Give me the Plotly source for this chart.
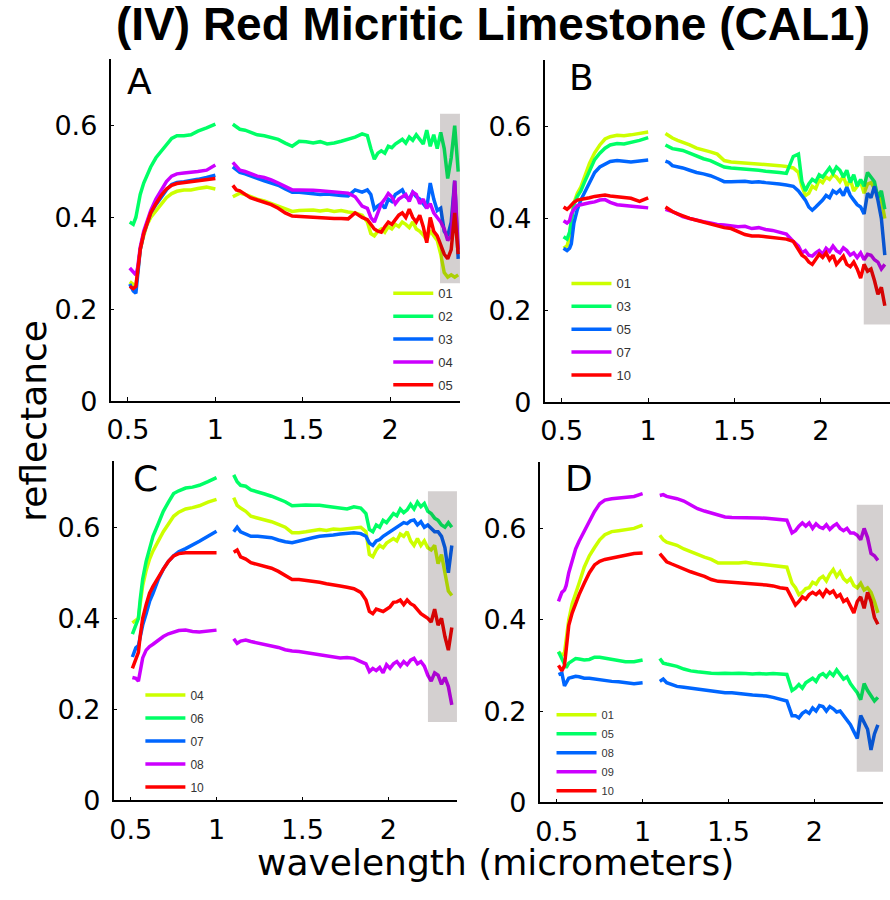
import plotly.graph_objects as go

# ---------------- data ----------------
WL = [0.51, 0.53, 0.545, 0.555, 0.57, 0.59, 0.61, 0.63, 0.66, 0.69, 0.72, 0.75, 0.78, 0.82, 0.86, 0.90, 0.95, 1.00,
      1.10, 1.12, 1.14, 1.17, 1.20, 1.24, 1.28, 1.32, 1.36, 1.40, 1.44, 1.48, 1.52, 1.56, 1.60, 1.64, 1.68, 1.72, 1.76, 1.80, 1.84, 1.87,
      1.89, 1.91, 1.93, 1.95, 1.97, 1.99, 2.01, 2.03, 2.05, 2.07, 2.09, 2.11, 2.13, 2.15, 2.17, 2.19, 2.21, 2.23, 2.25, 2.27, 2.29, 2.31,
      2.33, 2.35, 2.37, 2.39]

A01 = [0.26, 0.255, 0.25, 0.28, 0.33, 0.36, 0.385, 0.40, 0.415, 0.43, 0.443, 0.452, 0.457, 0.46, 0.46, 0.463, 0.466, 0.462,
       0.445, 0.45, 0.453, 0.45, 0.445, 0.44, 0.436, 0.43, 0.425, 0.418, 0.413, 0.415, 0.415, 0.416, 0.414, 0.416, 0.413, 0.415, 0.412, 0.41, 0.405, 0.39,
       0.365, 0.36, 0.37, 0.375, 0.368, 0.38, 0.375, 0.385, 0.38, 0.39, 0.385, 0.378, 0.39, 0.375, 0.37, 0.362, 0.35, 0.372, 0.36, 0.35, 0.32, 0.28, 0.27, 0.275, 0.27, 0.275]
A02 = [0.39, 0.385, 0.40, 0.42, 0.45, 0.475, 0.495, 0.51, 0.53, 0.545, 0.56, 0.572, 0.578, 0.578, 0.58, 0.588, 0.595, 0.603,
       0.603, 0.598, 0.592, 0.59, 0.585, 0.58, 0.578, 0.573, 0.57, 0.562, 0.555, 0.566, 0.565, 0.562, 0.565, 0.56, 0.562, 0.566, 0.57, 0.575, 0.582, 0.578,
       0.55, 0.527, 0.54, 0.545, 0.54, 0.555, 0.552, 0.56, 0.565, 0.57, 0.562, 0.575, 0.568, 0.58, 0.57, 0.56, 0.59, 0.555, 0.58, 0.55, 0.585, 0.55, 0.485, 0.53, 0.60, 0.50]
A03 = [0.255, 0.24, 0.235, 0.27, 0.33, 0.365, 0.39, 0.41, 0.428, 0.445, 0.46, 0.472, 0.476, 0.478, 0.48, 0.483, 0.487, 0.492,
       0.51, 0.505, 0.498, 0.495, 0.49, 0.485, 0.48, 0.475, 0.47, 0.462, 0.455, 0.455, 0.453, 0.452, 0.45, 0.451, 0.449, 0.448, 0.447, 0.46, 0.455, 0.46,
       0.45, 0.418, 0.425, 0.43, 0.42, 0.44, 0.435, 0.45, 0.455, 0.46, 0.445, 0.44, 0.455, 0.445, 0.44, 0.43, 0.42, 0.475, 0.44, 0.415, 0.42, 0.37, 0.36, 0.39, 0.48, 0.31]
A04 = [0.29, 0.28, 0.275, 0.29, 0.335, 0.37, 0.395, 0.415, 0.44, 0.46, 0.478, 0.49, 0.495, 0.497, 0.498, 0.50, 0.503, 0.514,
       0.52, 0.51, 0.503, 0.50, 0.495, 0.49, 0.487, 0.482, 0.475, 0.468, 0.46, 0.46, 0.46, 0.459, 0.458, 0.457, 0.456, 0.455, 0.453, 0.445, 0.425, 0.42,
       0.40, 0.39, 0.41, 0.43, 0.44, 0.452, 0.445, 0.43, 0.44, 0.445, 0.45, 0.435, 0.455, 0.45, 0.43, 0.44, 0.42, 0.43, 0.41, 0.40, 0.39, 0.375, 0.35, 0.36, 0.48, 0.33]
A05 = [0.25, 0.245, 0.25, 0.28, 0.33, 0.365, 0.39, 0.41, 0.43, 0.448, 0.462, 0.47, 0.474, 0.476, 0.478, 0.48, 0.483, 0.485,
       0.47, 0.46, 0.458, 0.45, 0.443, 0.438, 0.433, 0.428, 0.42, 0.41, 0.403, 0.402, 0.401, 0.40, 0.40, 0.399, 0.398, 0.398, 0.397, 0.41, 0.40, 0.395,
       0.385, 0.375, 0.37, 0.368, 0.38, 0.39, 0.385, 0.395, 0.405, 0.41, 0.40, 0.418, 0.40, 0.39, 0.405, 0.38, 0.345, 0.40, 0.37, 0.36, 0.34, 0.32, 0.31, 0.33, 0.41, 0.32]

B01 = [0.335, 0.34, 0.36, 0.40, 0.434, 0.455, 0.468, 0.49, 0.52, 0.543, 0.56, 0.573, 0.578, 0.581, 0.58, 0.582, 0.585, 0.588,
       0.585, 0.58, 0.575, 0.57, 0.566, 0.56, 0.553, 0.548, 0.545, 0.54, 0.526, 0.523, 0.522, 0.52, 0.52, 0.518, 0.517, 0.516, 0.515, 0.513, 0.51, 0.50,
       0.47, 0.45, 0.455, 0.47, 0.465, 0.484, 0.478, 0.49, 0.485, 0.495, 0.49, 0.48, 0.492, 0.47, 0.485, 0.46, 0.47, 0.48, 0.455, 0.475, 0.478, 0.465, 0.455, 0.44, 0.40, None]
B03 = [0.36, 0.355, 0.37, 0.40, 0.43, 0.448, 0.46, 0.478, 0.505, 0.528, 0.542, 0.553, 0.56, 0.563, 0.562, 0.565, 0.57, 0.576,
       0.56, 0.555, 0.552, 0.55, 0.548, 0.542, 0.535, 0.53, 0.526, 0.52, 0.512, 0.51, 0.509, 0.507, 0.506, 0.505, 0.503, 0.502, 0.50, 0.498, 0.535, 0.54,
       0.48, 0.46, 0.475, 0.485, 0.48, 0.495, 0.49, 0.50, 0.51, 0.498, 0.512, 0.505, 0.49, 0.505, 0.478, 0.495, 0.47, 0.485, 0.47, 0.50, 0.49, 0.48, 0.445, 0.46, 0.42, None]
B05 = [0.335, 0.33, 0.335, 0.345, 0.39, 0.42, 0.44, 0.455, 0.48, 0.50, 0.512, 0.519, 0.524, 0.526, 0.524, 0.523, 0.525, 0.527,
       0.525, 0.522, 0.515, 0.513, 0.51, 0.505, 0.50, 0.497, 0.493, 0.487, 0.48, 0.48, 0.48, 0.481, 0.479, 0.48, 0.478, 0.477, 0.475, 0.473, 0.47, 0.46,
       0.45, 0.44, 0.425, 0.418, 0.425, 0.432, 0.44, 0.45, 0.445, 0.46, 0.455, 0.462, 0.45, 0.468, 0.45, 0.44, 0.43, 0.425, 0.41, 0.455, 0.445, 0.47, 0.44, 0.40, 0.32, None]
B07 = [0.395, 0.39, 0.395, 0.41, 0.42, 0.428, 0.43, 0.432, 0.434, 0.436, 0.44, 0.441, 0.435, 0.43, 0.428, 0.427, 0.425, 0.423,
       0.42, 0.418, 0.415, 0.41, 0.404, 0.40, 0.396, 0.393, 0.39, 0.387, 0.386, 0.384, 0.382, 0.383, 0.378, 0.38, 0.376, 0.374, 0.37, 0.366, 0.35, 0.34,
       0.325, 0.33, 0.32, 0.318, 0.325, 0.33, 0.322, 0.335, 0.328, 0.34, 0.33, 0.325, 0.336, 0.33, 0.32, 0.325, 0.315, 0.325, 0.31, 0.322, 0.32, 0.31, 0.305, 0.29, 0.30, None]
B10 = [0.425, 0.42, 0.425, 0.43, 0.435, 0.44, 0.441, 0.443, 0.445, 0.448, 0.45, 0.451, 0.449, 0.447, 0.445, 0.444, 0.437, 0.445,
       0.425, 0.42, 0.415, 0.41, 0.405, 0.40, 0.396, 0.392, 0.388, 0.385, 0.38, 0.378, 0.372, 0.365, 0.362, 0.362, 0.36, 0.358, 0.356, 0.355, 0.35, 0.33,
       0.32, 0.315, 0.305, 0.30, 0.31, 0.322, 0.315, 0.325, 0.31, 0.32, 0.30, 0.31, 0.318, 0.30, 0.295, 0.305, 0.29, 0.27, 0.30, 0.285, 0.29, 0.265, 0.235, 0.25, 0.21, None]

C04 = [0.39, 0.395, 0.40, 0.43, 0.472, 0.505, 0.53, 0.548, 0.57, 0.59, 0.607, 0.624, 0.633, 0.64, 0.643, 0.647, 0.655, 0.661,
       0.665, 0.648, 0.642, 0.635, 0.624, 0.62, 0.617, 0.612, 0.606, 0.60, 0.588, 0.588, 0.59, 0.592, 0.595, 0.593, 0.596, 0.595, 0.597, 0.598, 0.60, 0.59,
       0.54, 0.535, 0.55, 0.56, 0.555, 0.565, 0.57, 0.575, 0.57, 0.585, 0.58, 0.59, 0.57, 0.56, 0.575, 0.56, 0.57, 0.555, 0.55, 0.56, 0.52, 0.54, 0.50, 0.46, 0.45, None]
C06 = [0.365, 0.385, 0.40, 0.44, 0.486, 0.525, 0.555, 0.58, 0.607, 0.635, 0.655, 0.674, 0.68, 0.686, 0.688, 0.692, 0.70, 0.709,
       0.715, 0.70, 0.692, 0.69, 0.682, 0.678, 0.673, 0.668, 0.662, 0.656, 0.647, 0.648, 0.649, 0.648, 0.648, 0.646, 0.644, 0.642, 0.64, 0.645, 0.642, 0.63,
       0.595, 0.59, 0.605, 0.60, 0.615, 0.61, 0.62, 0.63, 0.625, 0.64, 0.632, 0.638, 0.65, 0.64, 0.655, 0.645, 0.652, 0.635, 0.63, 0.62, 0.615, 0.605, 0.60, 0.61, 0.60, None]
C07 = [0.315, 0.335, 0.34, 0.36, 0.385, 0.41, 0.437, 0.455, 0.485, 0.508, 0.525, 0.537, 0.546, 0.553, 0.56, 0.569, 0.58, 0.591,
       0.59, 0.60, 0.59, 0.584, 0.58, 0.58, 0.578, 0.577, 0.572, 0.568, 0.566, 0.57, 0.574, 0.577, 0.58, 0.581, 0.583, 0.585, 0.586, 0.588, 0.586, 0.58,
       0.565, 0.56, 0.57, 0.573, 0.58, 0.585, 0.59, 0.595, 0.60, 0.605, 0.61, 0.608, 0.614, 0.616, 0.605, 0.612, 0.60, 0.605, 0.598, 0.59, 0.59, 0.58, 0.555, 0.50, 0.56, None]
C08 = [0.27, 0.268, 0.262, 0.28, 0.313, 0.33, 0.338, 0.343, 0.352, 0.36, 0.366, 0.37, 0.373, 0.374, 0.371, 0.37, 0.372, 0.374,
       0.355, 0.345, 0.35, 0.352, 0.349, 0.346, 0.343, 0.34, 0.336, 0.331, 0.328, 0.327, 0.325, 0.322, 0.32, 0.317, 0.315, 0.313, 0.314, 0.312, 0.305, 0.30,
       0.283, 0.29, 0.285, 0.292, 0.28, 0.298, 0.29, 0.30, 0.305, 0.295, 0.305, 0.298, 0.308, 0.312, 0.30, 0.305, 0.295, 0.275, 0.262, 0.28, 0.275, 0.255, 0.27, 0.25, 0.21, None]
C10 = [0.29, 0.313, 0.325, 0.36, 0.40, 0.43, 0.455, 0.47, 0.49, 0.508, 0.525, 0.537, 0.542, 0.544, 0.544, 0.544, 0.545, 0.544,
       0.545, 0.55, 0.535, 0.53, 0.522, 0.518, 0.514, 0.51, 0.503, 0.493, 0.485, 0.485, 0.483, 0.482, 0.479, 0.476, 0.474, 0.471, 0.468, 0.465, 0.457, 0.44,
       0.415, 0.41, 0.42, 0.418, 0.415, 0.42, 0.425, 0.435, 0.436, 0.44, 0.43, 0.44, 0.432, 0.428, 0.42, 0.41, 0.405, 0.40, 0.392, 0.42, 0.385, 0.40, 0.36, 0.33, 0.38, None]

D01 = [0.33, 0.322, 0.328, 0.36, 0.40, 0.435, 0.46, 0.48, 0.515, 0.54, 0.558, 0.575, 0.586, 0.593, 0.595, 0.597, 0.60, 0.607,
       0.585, 0.575, 0.57, 0.566, 0.563, 0.555, 0.55, 0.543, 0.537, 0.532, 0.524, 0.524, 0.525, 0.524, 0.526, 0.523, 0.522, 0.52, 0.518, 0.517, 0.515, 0.48,
       0.47, 0.455, 0.46, 0.468, 0.47, 0.482, 0.478, 0.49, 0.495, 0.485, 0.50, 0.51, 0.495, 0.505, 0.49, 0.483, 0.49, 0.475, 0.47, 0.48, 0.465, 0.47, 0.46, 0.44, 0.415, None]
D05 = [0.33, 0.315, 0.30, 0.295, 0.305, 0.31, 0.315, 0.314, 0.312, 0.313, 0.318, 0.318, 0.316, 0.314, 0.31, 0.308, 0.308, 0.312,
       0.315, 0.305, 0.303, 0.30, 0.298, 0.292, 0.288, 0.286, 0.284, 0.283, 0.282, 0.283, 0.282, 0.283, 0.282, 0.281, 0.282, 0.281, 0.282, 0.281, 0.28, 0.245,
       0.25, 0.258, 0.25, 0.262, 0.268, 0.272, 0.265, 0.278, 0.282, 0.275, 0.285, 0.278, 0.29, 0.28, 0.27, 0.275, 0.26, 0.25, 0.24, 0.225, 0.26, 0.245, 0.235, 0.222, 0.23, None]
D08 = [0.28, 0.283, 0.255, 0.262, 0.272, 0.274, 0.276, 0.275, 0.272, 0.272, 0.27, 0.268, 0.266, 0.265, 0.264, 0.262, 0.26, 0.262,
       0.265, 0.27, 0.262, 0.258, 0.254, 0.252, 0.25, 0.247, 0.246, 0.244, 0.242, 0.24, 0.24, 0.238, 0.236, 0.235, 0.234, 0.233, 0.23, 0.226, 0.222, 0.19,
       0.19, 0.185, 0.195, 0.20, 0.195, 0.207, 0.20, 0.212, 0.21, 0.20, 0.21, 0.205, 0.198, 0.20, 0.19, 0.182, 0.17, 0.155, 0.14, 0.19, 0.175, 0.16, 0.115, 0.15, 0.17, None]
D09 = [0.44, 0.46, 0.465, 0.475, 0.503, 0.53, 0.555, 0.572, 0.595, 0.618, 0.637, 0.654, 0.662, 0.665, 0.666, 0.667, 0.67, 0.676,
       0.672, 0.674, 0.67, 0.668, 0.665, 0.66, 0.652, 0.643, 0.638, 0.633, 0.628, 0.625, 0.624, 0.624, 0.624, 0.623, 0.623, 0.622, 0.621, 0.62, 0.618, 0.59,
       0.595, 0.605, 0.612, 0.605, 0.612, 0.60, 0.61, 0.603, 0.60, 0.608, 0.598, 0.605, 0.61, 0.60, 0.595, 0.60, 0.59, 0.59, 0.585, 0.575, 0.60, 0.58, 0.545, 0.54, 0.53, None]
D10 = [0.30, 0.288, 0.30, 0.34, 0.388, 0.415, 0.438, 0.455, 0.48, 0.503, 0.52, 0.528, 0.532, 0.535, 0.538, 0.542, 0.545, 0.546,
       0.545, 0.535, 0.527, 0.522, 0.517, 0.512, 0.505, 0.50, 0.495, 0.488, 0.484, 0.483, 0.482, 0.481, 0.48, 0.479, 0.478, 0.476, 0.474, 0.47, 0.468, 0.445,
       0.432, 0.44, 0.45, 0.445, 0.455, 0.46, 0.455, 0.462, 0.452, 0.465, 0.458, 0.463, 0.45, 0.455, 0.44, 0.445, 0.43, 0.415, 0.44, 0.45, 0.425, 0.46, 0.44, 0.405, 0.39, None]

PANELS = ["A", "B", "C", "D"]
LABELS = {"A": ["01", "02", "03", "04", "05"],
          "B": ["01", "03", "05", "07", "10"],
          "C": ["04", "06", "07", "08", "10"],
          "D": ["01", "05", "08", "09", "10"]}
SERIES = {"A": [A01, A02, A03, A04, A05],
          "B": [B01, B03, B05, B07, B10],
          "C": [C04, C06, C07, C08, C10],
          "D": [D01, D05, D08, D09, D10]}
# noisy-band boxes: x0, x1, y0, y1
BOXES = {"A": (2.286, 2.44, 0.257, 0.626),
         "B": (2.248, 2.45, 0.169, 0.536),
         "C": (2.231, 2.405, 0.172, 0.679),
         "D": (2.247, 2.40, 0.067, 0.652)}

X_TICKS = [0.5, 1, 1.5, 2]
X_TICKTEXT = ["0.5", "1", "1.5", "2"]
Y_TICKS = [0, 0.2, 0.4, 0.6]
Y_TICKTEXT = ["0", "0.2", "0.4", "0.6"]

COLORS = ["#ccff00", "#00ff66", "#0066ff", "#cc00ff", "#ff0000"]

W, H = 890, 900
# plot-area pixel boxes (left, right, top, bottom)
AREAS = {"A": (107, 458, 60, 408),
         "B": (543, 890, 61, 409),
         "C": (110, 455, 469, 814),
         "D": (538, 883, 470, 816)}
# legend: left px, top px, font size, group gap
LEGPOS = {"A": (386, 283, 13, 3), "B": (565, 273, 13, 3), "C": (137, 692, 12, 4), "D": (550, 712, 11, 0)}
LETTERPOS = {"A": (122, 83), "B": (566, 79), "C": (128, 487), "D": (562, 487)}

TICKFONT = dict(family="DejaVu Sans", size=27, color="black")


def with_gaps(xs, ys):
    ox, oy = [], []
    for i, (x, y) in enumerate(zip(xs, ys)):
        if i > 0 and x - xs[i - 1] > 0.08:
            ox.append(None)
            oy.append(None)
        ox.append(x)
        oy.append(y)
    return ox, oy


fig = go.Figure()
layout = dict(width=W, height=H, margin=dict(l=0, r=0, t=0, b=0),
              paper_bgcolor="white", plot_bgcolor="rgba(0,0,0,0)",
              showlegend=True, shapes=[], annotations=[])

for k, p in enumerate(PANELS):
    n = "" if k == 0 else str(k + 1)
    leg = "legend" if k == 0 else "legend" + str(k + 1)
    for j, (lab, vals) in enumerate(zip(LABELS[p], SERIES[p])):
        assert len(vals) == len(WL), (p, lab, len(vals))
        xs, ys = with_gaps(WL, vals)
        fig.add_trace(go.Scatter(x=xs, y=ys, mode="lines", name=lab,
                                 line=dict(color=COLORS[j], width=3.5),
                                 connectgaps=False, xaxis="x" + n, yaxis="y" + n,
                                 legend=leg, legendgroup=p + lab, hoverinfo="skip"))
    l, r, t, b = AREAS[p]
    layout["xaxis" + n] = dict(domain=[l / W, r / W], anchor="y" + n, range=[0.4, 2.4],
                               tickvals=X_TICKS, ticktext=X_TICKTEXT, ticks="inside", ticklen=4,
                               tickwidth=1.2, tickcolor="black", showline=True, linecolor="black",
                               linewidth=1.5, showgrid=False, zeroline=False, tickfont=TICKFONT,
                               ticklabelstandoff=4)
    layout["yaxis" + n] = dict(domain=[1 - b / H, 1 - t / H], anchor="x" + n, range=[0, 0.745],
                               tickvals=Y_TICKS, ticktext=Y_TICKTEXT, ticks="inside", ticklen=4,
                               tickwidth=1.2, tickcolor="black", showline=True, linecolor="black",
                               linewidth=1.5, showgrid=False, zeroline=False, tickfont=TICKFONT,
                               ticklabelstandoff=6)
    x0, x1, y0, y1 = BOXES[p]
    layout["shapes"].append(dict(type="rect", xref="x" + n, yref="y" + n, x0=x0, x1=x1, y0=y0, y1=y1,
                                 fillcolor="rgba(40,20,20,0.2)", line=dict(width=0), layer="above"))
    lx, ly, fs, gap = LEGPOS[p]
    layout[leg] = dict(x=lx / W, y=1 - ly / H, xanchor="left", yanchor="top",
                       bgcolor="rgba(0,0,0,0)", borderwidth=0, traceorder="grouped",
                       tracegroupgap=gap, itemwidth=40,
                       font=dict(family="Liberation Sans", size=fs, color="#333333"))
    px, py = LETTERPOS[p]
    layout["annotations"].append(dict(text=p, x=px / W, y=1 - py / H, xref="paper", yref="paper",
                                      xanchor="left", yanchor="middle", showarrow=False,
                                      font=dict(family="DejaVu Sans", size=36, color="black")))

layout["annotations"].append(dict(text="<b>(IV) Red Micritic Limestone (CAL1)</b>", x=491 / W, y=1 - 24 / H,
                                  xref="paper", yref="paper", xanchor="center", yanchor="middle",
                                  showarrow=False, borderpad=0,
                                  font=dict(family="Liberation Sans", size=46, color="black")))
layout["annotations"].append(dict(text="reflectance", x=30 / W, y=1 - 428 / H, xref="paper", yref="paper",
                                  xanchor="center", yanchor="middle", textangle=-90, showarrow=False,
                                  font=dict(family="DejaVu Sans", size=36, color="black")))
layout["annotations"].append(dict(text="wavelength (micrometers)", x=494 / W, y=1 - 877 / H,
                                  xref="paper", yref="paper", xanchor="center", yanchor="middle",
                                  showarrow=False,
                                  font=dict(family="DejaVu Sans", size=36, color="black")))

fig.update_layout(**layout)
fig.write_html("out.html")
